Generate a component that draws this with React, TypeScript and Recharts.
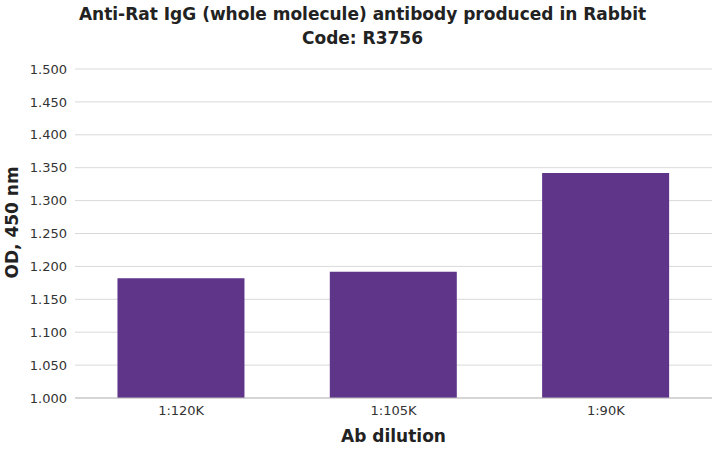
import React from "react";
import { BarChart, Bar, XAxis, YAxis, CartesianGrid } from "recharts";

const categories = ["1:120K", "1:105K", "1:90K"];
const odValues = [1.182, 1.192, 1.342];
const yTicks = [1.0, 1.05, 1.1, 1.15, 1.2, 1.25, 1.3, 1.35, 1.4, 1.45, 1.5];

const data = categories.map((name, i) => ({ name, od: odValues[i] }));
const font = "Verdana, 'DejaVu Sans', sans-serif";

export default function App() {
  return (
    <div style={{ position: "absolute", left: 0, top: 0, width: 725, height: 450, background: "#fff", fontFamily: font }}>
      <div style={{ position: "absolute", left: 0, top: 2, width: 725, textAlign: "center", fontWeight: "bold", fontSize: 17, lineHeight: "24px", color: "#222" }}>
        Anti-Rat IgG (whole molecule) antibody produced in Rabbit
        <br />
        Code: R3756
      </div>
      <BarChart width={725} height={450} data={data} margin={{ top: 69, right: 13, left: 20, bottom: 22 }} barCategoryGap="20%">
        <CartesianGrid vertical={false} stroke="#d9d9d9" />
        <XAxis dataKey="name" axisLine={{ stroke: "#bfbfbf" }} tickLine={false} height={30}
          tick={{ fontSize: 13, fill: "#333", fontFamily: font }}
          label={{ value: "Ab dilution", position: "insideBottom", offset: -14, fontSize: 17, fontWeight: "bold", fill: "#222", fontFamily: font }} />
        <YAxis domain={[1.0, 1.5]} ticks={yTicks} interval={0} width={55} axisLine={false} tickLine={false}
          tickFormatter={(v: number) => v.toFixed(3)}
          tick={{ fontSize: 13, fill: "#333", fontFamily: font }}
          label={{ value: "OD, 450 nm", angle: -90, position: "insideLeft", offset: -8, dy: 45, fontSize: 17, fontWeight: "bold", fill: "#222", fontFamily: font }} />
        <Bar dataKey="od" fill="#5e3589" isAnimationActive={false} />
      </BarChart>
    </div>
  );
}
